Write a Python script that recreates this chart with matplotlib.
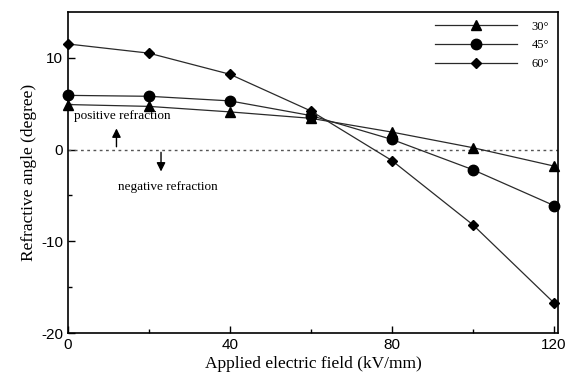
import matplotlib
matplotlib.use("Agg")
import matplotlib.pyplot as plt

# Données
field = [0, 20, 40, 60, 80, 100, 120]
angle_30 = [4.9, 4.7, 4.1, 3.4, 1.9, 0.2, -1.8]
angle_45 = [5.9, 5.8, 5.3, 3.7, 1.1, -2.2, -6.1]
angle_60 = [11.5, 10.5, 8.2, 4.2, -1.2, -8.2, -16.7]

series = [("30°", angle_30, "^", 7.5), ("45°", angle_45, "o", 7.5), ("60°", angle_60, "D", 5.5)]

serif = "Liberation Serif"
sans = "Liberation Sans"
plt.rcParams["axes.unicode_minus"] = False

fig = plt.figure(figsize=(5.8, 3.82), dpi=100)
ax = fig.add_axes([0.117, 0.128, 0.845, 0.841])

for label, vals, mk, ms in series:
    ax.plot(field, vals, color="#2a2a2a", linewidth=0.9, marker=mk,
            markersize=ms, markerfacecolor="black", markeredgecolor="black",
            label=label, clip_on=False, zorder=3)

# Ligne pointillée à zéro
ax.plot([0, 121], [0, 0], linestyle=(0, (2, 2.5)), color="#555555", linewidth=1.0)

# Annotations
ax.text(1.5, 3.0, "positive refraction", fontsize=9.5, family=serif, va="bottom")
ax.annotate("", xy=(12, 2.6), xytext=(12, 0),
            arrowprops=dict(arrowstyle="-|>", color="black", lw=1.0, mutation_scale=13))
ax.annotate("", xy=(23, -2.7), xytext=(23, 0),
            arrowprops=dict(arrowstyle="-|>", color="black", lw=1.0, mutation_scale=13))
ax.text(12.5, -4.1, "negative refraction", fontsize=9.5, family=serif, va="center")

ax.set_xlim(0, 121)
ax.set_ylim(-20, 15)
ax.set_xticks([0, 40, 80, 120])
ax.set_xticks([20, 60, 100], minor=True)
ax.set_yticks([-20, -10, 0, 10])
ax.set_yticks([-15, -5, 5], minor=True)
ax.tick_params(which="both", direction="in", width=1.0)
ax.tick_params(which="major", length=5, labelsize=11)
ax.tick_params(which="minor", length=3)
for lab in ax.get_xticklabels() + ax.get_yticklabels():
    lab.set_family(sans)
for sp in ax.spines.values():
    sp.set_linewidth(1.2)

ax.set_xlabel("Applied electric field (kV/mm)", fontsize=12.5, family=serif, labelpad=3)
ax.set_ylabel("Refractive angle (degree)", fontsize=12.5, family=serif, labelpad=3)

leg = ax.legend(loc="upper right", frameon=False, prop={"family": serif, "size": 9},
                handlelength=6.5, borderaxespad=0.3, labelspacing=0.55, handletextpad=1.2)

plt.savefig("out.png", dpi=100)
